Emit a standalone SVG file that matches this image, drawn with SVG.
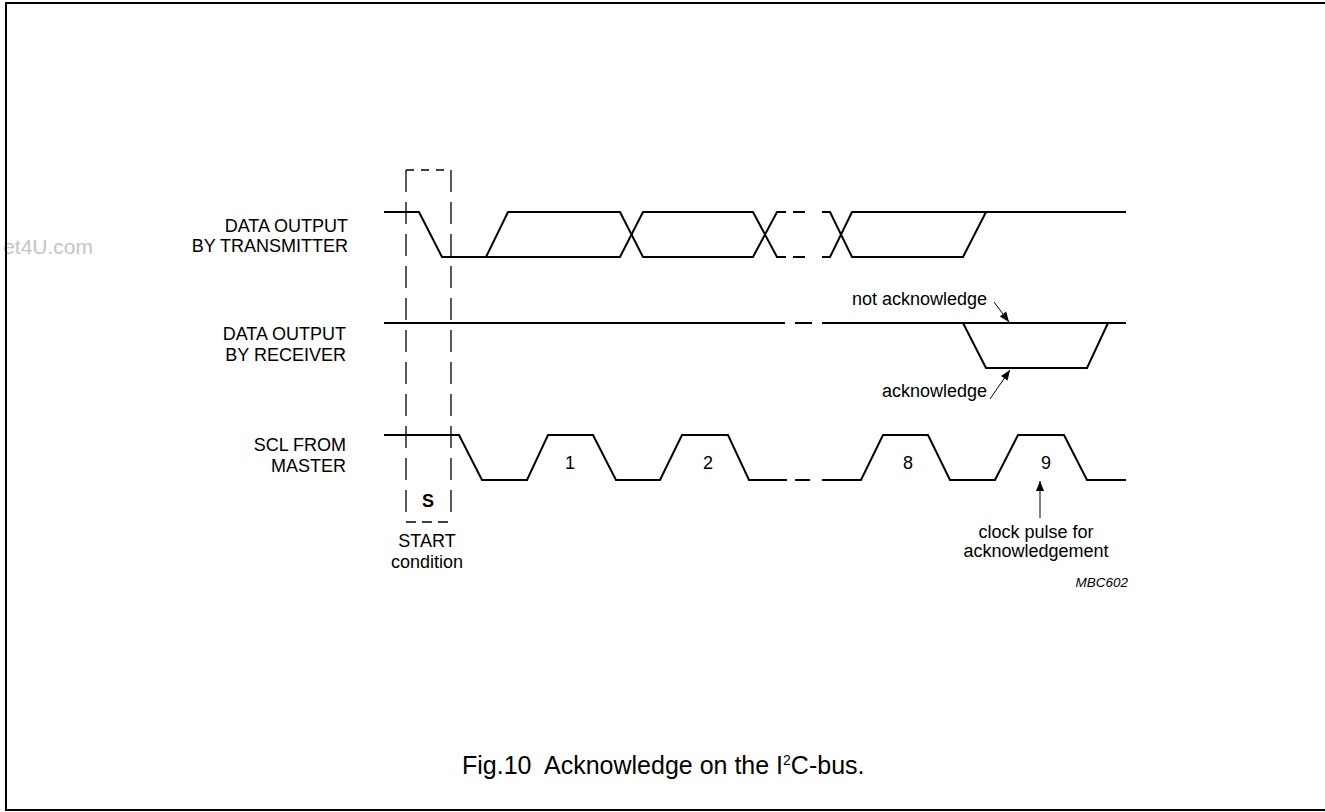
<svg xmlns="http://www.w3.org/2000/svg" width="1325" height="812" viewBox="0 0 1325 812">
<style>
.sig{fill:none;stroke:#000;stroke-width:2;stroke-linejoin:miter}
.box{fill:none;stroke:#000;stroke-width:1.3}
.t{font-family:"Liberation Sans",Arial,sans-serif;font-size:18px;fill:#000}
.r{text-anchor:end}
.c{text-anchor:middle}
.ptr{stroke:#000;stroke-width:1;marker-end:url(#ah)}
</style>
<defs>
<marker id="ah" viewBox="0 0 10 10" refX="10" refY="5" markerWidth="11" markerHeight="10" markerUnits="userSpaceOnUse" orient="auto">
<path d="M0,1 L10,5 L0,9 Z" fill="#000"/>
</marker>
</defs>
<rect width="1325" height="812" fill="#fff"/>
<text x="93" y="254" class="t r" style="fill:#c4c4c4;font-size:21px">et4U.com</text>
<path d="M1325,3 H6 V810 H1325" fill="none" stroke="#000" stroke-width="2"/>

<g id="labels">
<text class="t r" x="348" y="232">DATA OUTPUT</text>
<text class="t r" x="348" y="252">BY TRANSMITTER</text>
<text class="t r" x="346" y="340">DATA OUTPUT</text>
<text class="t r" x="346" y="361">BY RECEIVER</text>
<text class="t r" x="346" y="451">SCL FROM</text>
<text class="t r" x="346" y="472">MASTER</text>
</g>

<g id="start-box">
<line class="box" x1="406" y1="170" x2="451" y2="170" stroke-dasharray="8 7"/>
<line class="box" x1="406" y1="170" x2="406" y2="522" stroke-dasharray="22 10"/>
<line class="box" x1="451" y1="170" x2="451" y2="522" stroke-dasharray="22 10"/>
<line class="box" x1="406" y1="522" x2="451" y2="522" stroke-dasharray="10 6"/>
<text class="t c" x="428" y="507" style="font-weight:bold">S</text>
<text class="t c" x="427" y="547">START</text>
<text class="t c" x="427" y="568">condition</text>
</g>

<g id="transmitter">
<path class="sig" d="M384,212 H419 L442,257 H486 L508,212 H620 L643,257 H753 L777,212 H786"/>
<path class="sig" d="M486,257 H620 L643,212 H753 L777,257 H786"/>
<path class="sig" d="M793,212 H805 M793,257 H805"/>
<path class="sig" d="M822,212 H830 L852,257 H963 L986,212"/>
<path class="sig" d="M822,257 H830 L852,212 H1126"/>
</g>

<g id="receiver">
<path class="sig" d="M384,323 H785 M795,323 H812 M822,323 H1126"/>
<path class="sig" d="M963,323 L986,368 H1087 L1108,323"/>
<text class="t r" x="987" y="305">not acknowledge</text>
<text class="t r" x="987" y="397">acknowledge</text>
</g>

<g id="scl">
<path class="sig" d="M384,435 H459 L482,480 H527 L548,435 H593 L616,480 H660 L682,435 H728 L749,480 H787"/>
<path class="sig" d="M795,480 H810"/>
<path class="sig" d="M822,480 H861 L883,435 H928 L950,480 H995 L1018,435 H1064 L1087,480 H1126"/>
<text class="t c" x="570" y="469">1</text>
<text class="t c" x="708" y="469">2</text>
<text class="t c" x="908" y="469">8</text>
<text class="t c" x="1046" y="469">9</text>
<text class="t c" x="1036" y="538">clock pulse for</text>
<text class="t c" x="1036" y="557">acknowledgement</text>
<text class="t r" x="1128" y="587" style="font-style:italic;font-size:13.5px">MBC602</text>
</g>

<g id="connectors">
<line class="ptr" x1="994" y1="302" x2="1009" y2="322"/>
<line class="ptr" x1="990" y1="399" x2="1010" y2="370"/>
<line class="ptr" x1="1040" y1="518" x2="1040" y2="481"/>
</g>

<text class="t" x="462" y="774" style="font-size:25px" xml:space="preserve">Fig.10  Acknowledge on the I<tspan dy="-9" style="font-size:14px">2</tspan><tspan dy="9">C-bus.</tspan></text>
</svg>
